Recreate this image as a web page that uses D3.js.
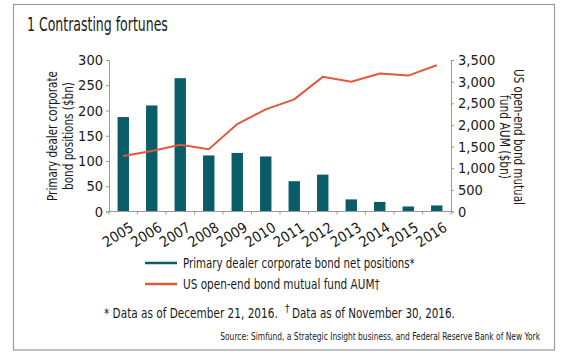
<!DOCTYPE html>
<html><head><meta charset="utf-8">
<script src="https://cdn.jsdelivr.net/npm/d3@7"></script>
<style>
body{margin:0;background:#fff;}
svg text{font-family:"DejaVu Sans Condensed","Roboto",sans-serif;fill:#1a1a1a;}
</style></head><body>
<svg id="c" width="580" height="358"></svg>
<script>
const years = ["2005","2006","2007","2008","2009","2010","2011","2012","2013","2014","2015","2016"];
const dealerPositions = [187, 210, 264, 111, 116, 109, 60, 73, 24, 19, 10, 12];
const fundAUM = [1280, 1400, 1540, 1440, 2020, 2360, 2590, 3110, 3000, 3190, 3140, 3380];
const leftTicks = [0,50,100,150,200,250,300];
const rightTicks = [0,500,1000,1500,2000,2500,3000,3500];

const teal = "#0b5c69", orange = "#e2583c", axisCol = "#9a9a9a";
const svg = d3.select("#c");

// place a text at (x,y) with optional rotation, horizontally condensed to a target length
function condensed(parent, str, x, y, size, len, opts = {}){
  const t = parent.append("text").attr("font-size", size)
    .attr("text-anchor", opts.anchor || "start").text(str);
  const w = t.node().getComputedTextLength();
  const k = len / w;
  t.attr("transform", `translate(${x},${y})${opts.rotate ? ` rotate(${opts.rotate})` : ""} scale(${k},1)`);
  return t;
}

// frame
svg.append("rect").attr("x",13.5).attr("y",4.5).attr("width",541).attr("height",345.5)
  .attr("fill","none").attr("stroke","#9b9b9b").attr("stroke-width",1.2);

condensed(svg, "1 Contrasting fortunes", 27, 31, 19, 141);

const L = 109, R = 451, T = 60, B = 211.5;
const x = d3.scaleBand().domain(years).range([L, R]).paddingInner(0.6).paddingOuter(0.3);
const yL = d3.scaleLinear().domain([0,300]).range([B, T]);
const yR = d3.scaleLinear().domain([0,3500]).range([B, T]);

// bars
svg.append("g").selectAll("rect").data(years).join("rect")
  .attr("x", d => x(d)).attr("width", x.bandwidth())
  .attr("y", (d,i) => yL(dealerPositions[i])).attr("height", (d,i) => B - yL(dealerPositions[i]))
  .attr("fill", teal);

// line
const line = d3.line().x((d,i) => x(years[i]) + x.bandwidth()/2).y(d => yR(d));
svg.append("path").datum(fundAUM).attr("d", line).attr("fill","none")
  .attr("stroke", orange).attr("stroke-width", 2);

// left axis
const gL = svg.append("g").attr("transform",`translate(${L},0)`)
  .call(d3.axisLeft(yL).tickValues(leftTicks).tickSize(3).tickPadding(3));
// right axis
const gR = svg.append("g").attr("transform",`translate(${R},0)`)
  .call(d3.axisRight(yR).tickValues(rightTicks).tickSize(3).tickPadding(4).tickFormat(d3.format(",")));
[gL,gR].forEach(g=>{
  g.select(".domain").attr("stroke",axisCol);
  g.selectAll(".tick line").attr("stroke",axisCol);
  g.selectAll(".tick text").attr("font-size",14.5).attr("fill","#1a1a1a").attr("font-family",null);
});

// x axis
const step = x.step();
const gX = svg.append("g").attr("transform",`translate(0,${B})`);
gX.append("line").attr("x1",L).attr("x2",R).attr("stroke",axisCol);
const bounds = years.map(d => x(d) - (step - x.bandwidth())/2).concat([R]);
gX.selectAll("line.t").data(bounds).join("line").attr("class","t")
  .attr("x1",d=>d).attr("x2",d=>d).attr("y1",0).attr("y2",3).attr("stroke",axisCol);
gX.selectAll("text").data(years).join("text")
  .attr("transform", d => `translate(${x(d)+x.bandwidth()/2+6},${10}) rotate(-32)`)
  .attr("text-anchor","end").attr("dy","0.7em").attr("font-size",14.5).text(d=>d);

// axis titles
condensed(svg, "Primary dealer corporate", 57, 136, 14.5, 130, {anchor:"middle", rotate:-90});
condensed(svg, "bond positions ($bn)", 73, 136, 14.5, 108, {anchor:"middle", rotate:-90});
condensed(svg, "US open-end bond mutual", 514, 137, 14, 136, {anchor:"middle", rotate:90});
condensed(svg, "fund AUM ($bn)", 500, 137, 14, 84, {anchor:"middle", rotate:90});

// legend
const legend = [
  {label:"Primary dealer corporate bond net positions*", color:teal, y:263, len:232},
  {label:"US open-end bond mutual fund AUM\u2020", color:orange, y:284, len:197}
];
const lg = svg.append("g");
legend.forEach(l=>{
  lg.append("line").attr("x1",145).attr("x2",177).attr("y1",l.y).attr("y2",l.y)
    .attr("stroke",l.color).attr("stroke-width",2.5);
  condensed(lg, l.label, 183, l.y+5, 14.5, l.len);
});

// footnotes
condensed(svg, "* Data as of December 21, 2016.", 104, 318, 14.5, 174);
svg.append("text").attr("x",285).attr("y",312).attr("font-size",10).text("\u2020");
condensed(svg, "Data as of November 30, 2016.", 292, 318, 14.5, 163);

condensed(svg, "Source: Simfund, a Strategic Insight business, and Federal Reserve Bank of New York",
  540, 340, 10.5, 320, {anchor:"end"});
</script></body></html>
